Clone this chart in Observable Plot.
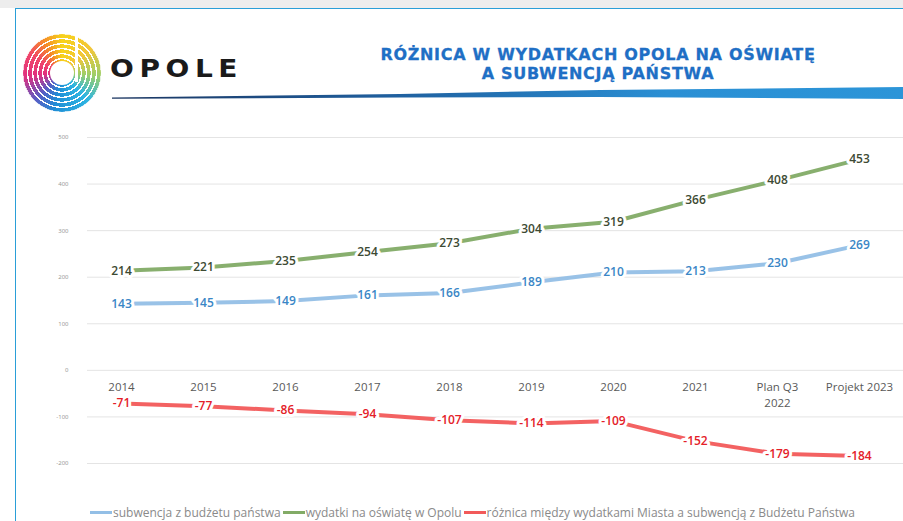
<!DOCTYPE html>
<html>
<head>
<meta charset="utf-8">
<script src="https://cdn.jsdelivr.net/npm/d3@7"></script>
<script src="https://cdn.jsdelivr.net/npm/@observablehq/plot@0.6"></script>
<style>
  html, body { margin: 0; padding: 0; background: #ffffff; }
  #page { position: relative; width: 903px; height: 521px; overflow: hidden; background: #fff; }
  #topstrip { position: absolute; left: 0; top: 0; width: 903px; height: 8px; background: #ededed; }
  #frame { position: absolute; left: 15px; top: 8px; width: 900px; height: 520px; border-top: 1.5px solid #2a9fd8; border-left: 1.5px solid #2a9fd8; box-sizing: border-box; }
  #logo { position: absolute; left: 23px; top: 34px; width: 78px; height: 78px; border-radius: 50%;
    background: conic-gradient(from 0deg, #f7d21a 0deg, #f2c63a 50deg, #9ccf6a 95deg, #2fb6e2 135deg, #1f8fd6 190deg, #5a5cc4 225deg, #e0307f 265deg, #f0466a 300deg, #f58a2a 330deg, #f7d21a 360deg); }
  #logo .rings { position: absolute; inset: 0; border-radius: 50%;
    background: repeating-radial-gradient(circle at 50% 50%, rgba(255,255,255,0) 0 3.6px, #fff 3.6px 5px); }
  #logo .hole { position: absolute; left: 27px; top: 27px; width: 24px; height: 24px; border-radius: 50%; background: #fff; }
  #logo .cut { position: absolute; left: 52px; top: 0px; width: 3px; height: 48px; background: #fff; }
  #opole { position: absolute; left: 110px; top: 54px; font-family: "DejaVu Sans", sans-serif; font-weight: bold; font-size: 25px; letter-spacing: 5px; color: #1a1a1a; transform: scaleX(1.12); transform-origin: left center; }
  #title { position: absolute; left: 298px; width: 600px; top: 45px; text-align: center; font-family: "DejaVu Sans", sans-serif; font-weight: bold; font-size: 16px; letter-spacing: 0.7px; line-height: 19px; color: #1f6fc5; -webkit-text-stroke: 0.3px #1f6fc5; }
  #swoosh { position: absolute; left: 0; top: 0; }
  #chart { position: absolute; left: 15px; top: 120px; }
  #legend { position: absolute; left: 90px; top: 504px; display: flex; align-items: center; font-family: "Open Sans", sans-serif; font-size: 12px; color: #8a8a8a; white-space: nowrap; }
  #legend .item { display: flex; align-items: center; margin-right: 2px; }
  #legend .sw { width: 22px; height: 3px; margin-right: 1px; }
</style>
</head>
<body>
<div id="page">
  <div id="topstrip"></div>
  <div id="frame"></div>
  <svg id="swoosh" width="903" height="120">
    <defs>
      <linearGradient id="sg" x1="0" x2="1" y1="0" y2="0">
        <stop offset="0" stop-color="#1b3560"/>
        <stop offset="0.35" stop-color="#1f5f9e"/>
        <stop offset="0.7" stop-color="#2a8fd4"/>
        <stop offset="1" stop-color="#2c95d8"/>
      </linearGradient>
    </defs>
    <polygon points="112,97.5 400,94 600,90 903,87 903,99 600,97 400,97.5 112,98.8" fill="url(#sg)"/>
  </svg>
  <div id="logo"><div class="rings"></div><div class="hole"></div><div class="cut"></div></div>
  <div id="opole">OPOLE</div>
  <div id="title">RÓŻNICA W WYDATKACH OPOLA NA OŚWIATĘ<br>A SUBWENCJĄ PAŃSTWA</div>
  <div id="chart"></div>
  <div id="legend"></div>
</div>
<script>
// ---- data ----
const categories = ["2014", "2015", "2016", "2017", "2018", "2019", "2020", "2021", "Plan Q3\n2022", "Projekt 2023"];
const subwencja = [143, 145, 149, 161, 166, 189, 210, 213, 230, 269];
const wydatki = [214, 221, 235, 254, 273, 304, 319, 366, 408, 453];
const roznica = [-71, -77, -86, -94, -107, -114, -109, -152, -179, -184];
const yTicks = [-200, -100, 0, 100, 200, 300, 400, 500];
const seriesNames = [
  "subwencja z budżetu państwa",
  "wydatki na oświatę w Opolu",
  "różnica między wydatkami Miasta a subwencją z Budżetu Państwa"
];
const lineColors = ["#93bfe6", "#82ab66", "#f25a5a"];
const labelColors = ["#3a86c6", "#3d4a33", "#e42028"];

const seriesValues = [subwencja, wydatki, roznica];
const series = seriesNames.map((name, i) => ({
  name,
  lineColor: lineColors[i],
  labelColor: labelColors[i],
  rows: categories.map((c, j) => ({category: c, value: seriesValues[i][j]}))
}));

const marks = [
  Plot.ruleY(yTicks, {stroke: "#e4e4e4", strokeWidth: 1}),
  Plot.axisY(yTicks, {tickSize: 0, tickPadding: 19, fontSize: 6, fill: "#9a9a9a", label: null, tickFormat: d => String(d)}),
  Plot.text(categories, {x: d => d, y: () => 0, dy: 10, lineAnchor: "top", lineHeight: 1.35,
    fontFamily: "Open Sans", fontSize: 11.5, fill: "#595959"})
];
for (const s of series) {
  marks.push(Plot.line(s.rows, {x: "category", y: "value", stroke: s.lineColor, strokeWidth: 4, strokeOpacity: 0.95}));
}
for (const s of series) {
  marks.push(Plot.text(s.rows, {x: "category", y: "value", text: d => String(d.value),
    fill: s.labelColor, stroke: "white", strokeWidth: 6, fontFamily: "Open Sans", fontWeight: 600, fontSize: 12}));
}

const chart = Plot.plot({
  width: 888,
  height: 370,
  marginTop: 17,
  marginBottom: 27,
  marginLeft: 72,
  marginRight: 0,
  x: {type: "point", domain: categories, range: [105, 845], padding: 0, axis: null},
  y: {domain: [-200, 500], axis: null},
  style: {background: "transparent", overflow: "visible"},
  marks
});
document.getElementById("chart").appendChild(chart);

// legend
const legend = document.getElementById("legend");
series.forEach(s => {
  const item = document.createElement("div");
  item.className = "item";
  const sw = document.createElement("div");
  sw.className = "sw";
  sw.style.background = s.lineColor;
  const label = document.createElement("span");
  label.textContent = s.name;
  item.appendChild(sw);
  item.appendChild(label);
  legend.appendChild(item);
});
</script>
</body>
</html>
